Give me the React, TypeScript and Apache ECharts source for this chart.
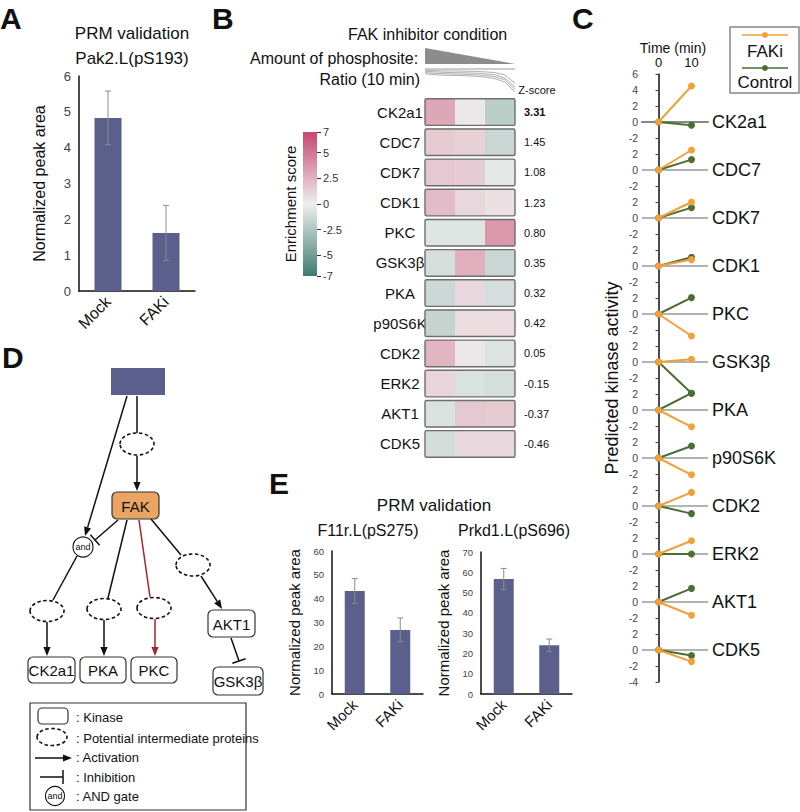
import React, { useEffect, useRef } from "react";
import * as echarts from "echarts";

const FONT = "'Liberation Sans', Arial, Helvetica, sans-serif";
const BAR = "#5b5f8b";
const ORANGE = "#f4a03a";
const GREEN = "#4b6e34";
const RED = "#a3262c";

// ---------- Panel A ----------
const A_CATS = ["Mock", "FAKi"];
const A_MEANS = [4.83, 1.62];
const A_ERRS = [0.75, 0.77];

// ---------- Panel B ----------
const B_KINASES = ["CK2a1", "CDC7", "CDK7", "CDK1", "PKC", "GSK3β", "PKA", "p90S6K", "CDK2", "ERK2", "AKT1", "CDK5"];
const B_COLUMNS = ["1", "2", "3"];
const B_COL1 = [3.0, 1.5, 1.6, 2.1, -0.6, -1.0, -1.4, -1.6, 2.4, 1.1, -0.8, -1.1];
const B_COL2 = [0.3, 1.2, 1.4, 1.0, -0.6, 2.6, 1.0, 0.8, 0.3, -0.8, 1.6, 1.0];
const B_COL3 = [-2.0, -1.5, -0.4, 0.6, 3.6, -1.5, -1.0, 0.8, -0.7, -1.0, 1.5, 1.0];
const B_Z = ["3.31", "1.45", "1.08", "1.23", "0.80", "0.35", "0.32", "0.42", "0.05", "-0.15", "-0.37", "-0.46"];
const B_SCALE_TICKS = [7, 5, 2.5, 0, -2.5, -5, -7];
const B_RATIO_LINES = [
  [0.95, 0.93, 0.92, 0.92, 0.91, 0.9, 0.88, 0.85, 0.75, 0.4],
  [0.9, 0.88, 0.86, 0.85, 0.84, 0.83, 0.8, 0.76, 0.62, 0.25],
  [0.85, 0.82, 0.8, 0.79, 0.78, 0.76, 0.73, 0.68, 0.55, 0.15],
  [0.8, 0.76, 0.74, 0.73, 0.72, 0.7, 0.66, 0.6, 0.45, 0.05],
];

// ---------- Panel C ----------
const C_KINASES = ["CK2a1", "CDC7", "CDK7", "CDK1", "PKC", "GSK3β", "PKA", "p90S6K", "CDK2", "ERK2", "AKT1", "CDK5"];
const C_TIMES = [0, 10];
const C_FAKI_10 = [4.5, 2.5, 2.0, 0.8, -2.75, 0.35, -2.1, -2.1, 1.7, 1.65, -1.65, -1.45];
const C_CTRL_10 = [-0.4, 1.3, 1.3, 1.1, 2.05, -3.9, 2.1, 1.5, -0.95, 0.0, 1.7, -0.7];
const C_STEP = 6;

// ---------- Panel E ----------
const E_CATS = ["Mock", "FAKi"];
const E1_MEANS = [43.2, 26.9];
const E1_ERRS = [5.2, 5.0];
const E2_MEANS = [56.7, 24.0];
const E2_ERRS = [5.2, 3.1];

function errorBars(xAxisIndex: number, yAxisIndex: number, means: number[], errs: number[]) {
  return {
    type: "custom",
    xAxisIndex,
    yAxisIndex,
    z: 5,
    silent: true,
    data: means.map((m, i) => [i, m - errs[i], m + errs[i]]),
    renderItem: (params: any, api: any) => {
      const i = api.value(0);
      const lo = api.coord([i, api.value(1)]);
      const hi = api.coord([i, api.value(2)]);
      const hw = 3;
      const st = { stroke: "#8c8c8c", lineWidth: 1 };
      return {
        type: "group",
        children: [
          { type: "line", shape: { x1: hi[0], y1: hi[1], x2: lo[0], y2: lo[1] }, style: st },
          { type: "line", shape: { x1: hi[0] - hw, y1: hi[1], x2: hi[0] + hw, y2: hi[1] }, style: st },
          { type: "line", shape: { x1: lo[0] - hw, y1: lo[1], x2: lo[0] + hw, y2: lo[1] }, style: st },
        ],
      };
    },
  };
}

function txt(x: number, y: number, text: string, size: number, extra: any = {}) {
  return {
    type: "text",
    x,
    y,
    silent: true,
    style: {
      text,
      fontSize: size,
      fontFamily: FONT,
      fill: "#111",
      align: "center",
      verticalAlign: "middle",
      ...extra,
    },
  };
}

function arrow(x1: number, y1: number, x2: number, y2: number, color = "#111") {
  const dx = x2 - x1, dy = y2 - y1;
  const L = Math.hypot(dx, dy);
  const ux = dx / L, uy = dy / L;
  const hl = 9, hw = 3.6;
  const bx = x2 - ux * hl, by = y2 - uy * hl;
  return [
    { type: "line", silent: true, shape: { x1, y1, x2: bx, y2: by }, style: { stroke: color, lineWidth: 1.5 } },
    {
      type: "polygon",
      silent: true,
      shape: { points: [[x2, y2], [bx - uy * hw, by + ux * hw], [bx + uy * hw, by - ux * hw]] },
      style: { fill: color },
    },
  ];
}

function inhibit(x1: number, y1: number, x2: number, y2: number, color = "#111") {
  const dx = x2 - x1, dy = y2 - y1;
  const L = Math.hypot(dx, dy);
  const ux = dx / L, uy = dy / L;
  const hw = 7;
  return [
    { type: "line", silent: true, shape: { x1, y1, x2, y2 }, style: { stroke: color, lineWidth: 1.5 } },
    {
      type: "line",
      silent: true,
      shape: { x1: x2 - uy * hw, y1: y2 + ux * hw, x2: x2 + uy * hw, y2: y2 - ux * hw },
      style: { stroke: color, lineWidth: 1.5 },
    },
  ];
}

function line(x1: number, y1: number, x2: number, y2: number, color = "#111") {
  return { type: "line", silent: true, shape: { x1, y1, x2, y2 }, style: { stroke: color, lineWidth: 1.5 } };
}

function dashEllipse(cx: number, cy: number, rx = 17, ry = 10.5) {
  return {
    type: "ellipse",
    silent: true,
    shape: { cx, cy, rx, ry },
    style: { fill: "#fff", stroke: "#111", lineWidth: 1.6, lineDash: [3.5, 2.5] },
  };
}

function kinaseBox(x: number, y: number, w: number, h: number, label: string, size = 15) {
  return [
    {
      type: "rect",
      silent: true,
      shape: { x, y, width: w, height: h, r: 5 },
      style: { fill: "#fff", stroke: "#333", lineWidth: 1.2 },
    },
    txt(x + w / 2, y + h / 2 + 0.5, label, size),
  ];
}

function andGate(cx: number, cy: number, r = 10) {
  return [
    { type: "circle", silent: true, shape: { cx, cy, r }, style: { fill: "#fff", stroke: "#111", lineWidth: 1.1 } },
    txt(cx, cy, "and", 9),
  ];
}

export default function App() {
  const ref = useRef<HTMLDivElement>(null);

  useEffect(() => {
    if (!ref.current) return;
    const chart = echarts.init(ref.current, undefined, { renderer: "svg" });

    const axisBlack = { show: true, lineStyle: { color: "#111", width: 1.5 } };
    const series: any[] = [];

    // Panel A
    series.push({
      type: "bar",
      xAxisIndex: 0,
      yAxisIndex: 0,
      data: A_MEANS,
      barWidth: 27,
      itemStyle: { color: BAR },
      silent: true,
    });
    series.push(errorBars(0, 0, A_MEANS, A_ERRS));

    // Panel B cells
    const cellData: any[] = [];
    B_KINASES.forEach((_, r) => {
      cellData.push([0, r, B_COL1[r]]);
      cellData.push([1, r, B_COL2[r]]);
      cellData.push([2, r, B_COL3[r]]);
    });
    const cellIndex = series.length;
    series.push({
      type: "custom",
      xAxisIndex: 1,
      yAxisIndex: 1,
      data: cellData,
      silent: true,
      renderItem: (params: any, api: any) => {
        const p = api.coord([api.value(0), api.value(1)]);
        const s = api.size([1, 1]);
        return {
          type: "rect",
          shape: { x: p[0] - s[0] / 2, y: p[1] - s[1] / 2 + 1.8, width: s[0], height: s[1] - 3.6 },
          style: { fill: api.visual("color") },
        };
      },
    });
    // row outlines
    series.push({
      type: "custom",
      xAxisIndex: 1,
      yAxisIndex: 1,
      data: B_KINASES.map((_, r) => [1, r]),
      silent: true,
      z: 4,
      renderItem: (params: any, api: any) => {
        const p = api.coord([api.value(0), api.value(1)]);
        const s = api.size([1, 1]);
        return {
          type: "rect",
          shape: { x: p[0] - s[0] * 1.5, y: p[1] - s[1] / 2 + 1.8, width: s[0] * 3, height: s[1] - 3.6, r: 1.5 },
          style: { fill: "none", stroke: "#6e6e6e", lineWidth: 1.4 },
        };
      },
    });
    // colour bar
    series.push({
      type: "custom",
      xAxisIndex: 2,
      yAxisIndex: 3,
      data: [[0, B_SCALE_TICKS[B_SCALE_TICKS.length - 1], B_SCALE_TICKS[0]]],
      silent: true,
      renderItem: (params: any, api: any) => {
        const lo = api.coord([0, api.value(1)]);
        const hi = api.coord([0, api.value(2)]);
        const s = api.size([1, 1]);
        return {
          type: "rect",
          shape: { x: lo[0] - s[0] / 2, y: hi[1], width: s[0], height: lo[1] - hi[1] },
          style: {
            fill: new echarts.graphic.LinearGradient(0, 0, 0, 1, [
              { offset: 0, color: "#c7466f" },
              { offset: 0.5, color: "#eeefee" },
              { offset: 1, color: "#3f7b70" },
            ]),
          },
        };
      },
    });
    // ratio mini lines
    B_RATIO_LINES.forEach((arr) => {
      series.push({
        type: "line",
        xAxisIndex: 6,
        yAxisIndex: 7,
        data: arr,
        symbol: "none",
        silent: true,
        lineStyle: { color: "#9a9a9a", width: 0.8 },
      });
    });

    // Panel C
    C_KINASES.forEach((name, k) => {
      const base = -C_STEP * k;
      const s: any = {
        type: "line",
        xAxisIndex: 3,
        yAxisIndex: 4,
        data: [
          [C_TIMES[0], base],
          [C_TIMES[1], base + C_CTRL_10[k]],
        ],
        symbol: "circle",
        symbolSize: 7,
        silent: true,
        z: 3,
        itemStyle: { color: GREEN },
        lineStyle: { color: GREEN, width: 2 },
      };
      if (k === 0) {
        s.markLine = {
          silent: true,
          symbol: ["none", "none"],
          lineStyle: { color: "#9a9a9a", width: 1.5, type: "solid" },
          label: { show: true, position: "end", formatter: "{b}", fontSize: 18, color: "#111", fontFamily: FONT, distance: 4 },
          data: C_KINASES.map((n, j) => ({ yAxis: -C_STEP * j, name: n })),
          z: 1,
        };
      }
      series.push(s);
    });
    C_KINASES.forEach((name, k) => {
      const base = -C_STEP * k;
      series.push({
        type: "line",
        xAxisIndex: 3,
        yAxisIndex: 4,
        data: [
          [C_TIMES[0], base],
          [C_TIMES[1], base + C_FAKI_10[k]],
        ],
        symbol: "circle",
        symbolSize: 7,
        silent: true,
        z: 4,
        itemStyle: { color: ORANGE },
        lineStyle: { color: ORANGE, width: 2 },
      });
    });

    // Panel E
    series.push({ type: "bar", xAxisIndex: 4, yAxisIndex: 5, data: E1_MEANS, barWidth: 20, itemStyle: { color: BAR }, silent: true });
    series.push(errorBars(4, 5, E1_MEANS, E1_ERRS));
    series.push({ type: "bar", xAxisIndex: 5, yAxisIndex: 6, data: E2_MEANS, barWidth: 20, itemStyle: { color: BAR }, silent: true });
    series.push(errorBars(5, 6, E2_MEANS, E2_ERRS));

    const catAxis = (gridIndex: number, data: string[], fontSize: number) => ({
      type: "category",
      gridIndex,
      data,
      axisLine: axisBlack,
      axisTick: { show: false },
      axisLabel: { rotate: 45, fontSize, color: "#111", fontFamily: FONT, margin: 8 },
    });

    const valAxis = (gridIndex: number, max: number, interval: number, fontSize: number, name: string, nameSize: number, nameGap: number) => ({
      type: "value",
      gridIndex,
      min: 0,
      max,
      interval,
      axisLine: axisBlack,
      axisTick: { show: false },
      splitLine: { show: false },
      axisLabel: { fontSize, color: "#444", fontFamily: FONT, margin: 8 },
      name,
      nameLocation: "middle",
      nameGap,
      nameTextStyle: { fontSize: nameSize, color: "#111", fontFamily: FONT },
    });

    // Panel D graphics
    const dGraphics: any[] = [
      { type: "rect", silent: true, shape: { x: 111, y: 368, width: 54, height: 27 }, style: { fill: BAR } },
      ...arrow(127, 396, 85, 536),
      line(137, 396, 137, 433),
      dashEllipse(137, 444, 17, 11),
      ...arrow(137, 456, 137, 491),
      {
        type: "rect",
        silent: true,
        shape: { x: 112, y: 492, width: 47, height: 27, r: 5 },
        style: { fill: "#eba563", stroke: "#333", lineWidth: 1.2 },
      },
      txt(135.5, 506, "FAK", 15),
      ...inhibit(118, 520, 95, 540),
      ...andGate(83, 547),
      line(77, 556, 53, 600),
      line(127, 520, 108, 598),
      line(139, 520, 150, 597, RED),
      line(151, 519, 181, 555),
      dashEllipse(47, 611),
      dashEllipse(104, 609),
      dashEllipse(154, 608),
      dashEllipse(193, 565, 17, 11),
      ...arrow(47, 622, 47, 656),
      ...arrow(104, 620, 104, 656),
      ...arrow(155, 619, 155, 656, RED),
      ...arrow(201, 576, 222, 609),
      ...kinaseBox(28, 657, 47, 26, "CK2a1"),
      ...kinaseBox(80, 657, 46, 26, "PKA"),
      ...kinaseBox(131, 657, 46, 26, "PKC"),
      ...kinaseBox(208, 610, 47, 27, "AKT1"),
      ...inhibit(231, 638, 239, 661),
      ...kinaseBox(213, 667, 50, 28, "GSK3β"),
      // legend
      { type: "rect", silent: true, shape: { x: 30, y: 703, width: 216, height: 107 }, style: { fill: "none", stroke: "#333", lineWidth: 1.2 } },
      { type: "rect", silent: true, shape: { x: 38, y: 708, width: 30, height: 16, r: 4 }, style: { fill: "#fff", stroke: "#333", lineWidth: 1.2 } },
      txt(76, 717, ": Kinase", 13, { align: "left" }),
      dashEllipse(52, 737, 15, 8.5),
      txt(76, 738, ": Potential intermediate proteins", 13, { align: "left" }),
      ...arrow(35, 758, 72, 758),
      txt(76, 757, ": Activation", 13, { align: "left" }),
      ...inhibit(40, 777, 63, 777),
      txt(76, 777, ": Inhibition", 13, { align: "left" }),
      ...andGate(55, 796, 9.5),
      txt(76, 796, ": AND gate", 13, { align: "left" }),
    ];

    const option: any = {
      animation: false,
      textStyle: { fontFamily: FONT },
      grid: [
        { left: 79, top: 76, width: 116, height: 215 },
        { left: 425, top: 97, width: 90, height: 362 },
        { left: 303, top: 132, width: 14, height: 144 },
        { left: 642, top: 74, width: 66, height: 608 },
        { left: 332, top: 551, width: 91, height: 143 },
        { left: 481, top: 552, width: 91, height: 142 },
        { left: 425, top: 69, width: 90, height: 24 },
      ],
      xAxis: [
        catAxis(0, A_CATS, 16),
        { type: "category", gridIndex: 1, data: B_COLUMNS, show: false },
        { type: "category", gridIndex: 2, data: ["bar"], show: false },
        {
          type: "value",
          gridIndex: 3,
          position: "top",
          min: -5,
          max: 15,
          interval: 5,
          axisLine: axisBlack,
          axisTick: { show: false },
          splitLine: { show: false },
          axisLabel: {
            fontSize: 13,
            color: "#111",
            margin: 5,
            formatter: (v: number) => (C_TIMES.indexOf(v) >= 0 ? String(v) : ""),
          },
        },
        catAxis(4, E_CATS, 15),
        catAxis(5, E_CATS, 15),
        { type: "category", gridIndex: 6, data: B_RATIO_LINES[0].map((_, i) => String(i)), show: false, boundaryGap: false },
      ],
      yAxis: [
        valAxis(0, 6, 1, 13, "Normalized peak area", 16, 32),
        {
          type: "category",
          gridIndex: 1,
          data: B_KINASES,
          inverse: true,
          axisLine: { show: false },
          axisTick: { show: false },
          axisLabel: { fontSize: 15, color: "#111", align: "center", margin: 25 },
        },
        {
          type: "category",
          gridIndex: 1,
          data: B_KINASES,
          inverse: true,
          position: "right",
          axisLine: { show: false },
          axisTick: { show: false },
          axisLabel: {
            fontSize: 11,
            color: "#111",
            align: "left",
            margin: 9,
            formatter: (v: string, i: number) => (i === 0 ? `{b|${B_Z[i]}}` : B_Z[i]),
            rich: { b: { fontWeight: "bold", fontSize: 11, color: "#111" } },
          },
        },
        {
          type: "value",
          gridIndex: 2,
          position: "right",
          min: -7,
          max: 7,
          axisLine: { show: false },
          splitLine: { show: false },
          axisTick: { show: true, length: 4, lineStyle: { color: "#333" }, customValues: B_SCALE_TICKS },
          axisLabel: { fontSize: 11, color: "#333", margin: 6, customValues: B_SCALE_TICKS },
        },
        {
          type: "value",
          gridIndex: 3,
          min: -70,
          max: 6,
          interval: 2,
          axisLine: axisBlack,
          axisTick: { show: true, length: 3, lineStyle: { color: "#444" } },
          splitLine: { show: false },
          axisLabel: {
            fontSize: 10.5,
            color: "#444",
            margin: 4,
            formatter: (v: number) => {
              let k = Math.round(-v / C_STEP);
              k = Math.min(Math.max(k, 0), C_KINASES.length - 1);
              return String(v + C_STEP * k);
            },
          },
        },
        valAxis(4, 60, 10, 9.5, "Normalized peak area", 15, 30),
        valAxis(5, 70, 10, 9.5, "Normalized peak area", 15, 30),
        { type: "value", gridIndex: 6, min: 0, max: 1, show: false },
      ],
      visualMap: [
        {
          type: "continuous",
          show: false,
          min: -7,
          max: 7,
          dimension: 2,
          seriesIndex: cellIndex,
          inRange: { color: ["#3f7b70", "#eeefee", "#c7466f"] },
        },
      ],
      series,
      graphic: [
        // panel letters
        txt(0, 3, "A", 30, { align: "left", verticalAlign: "top", fontWeight: "bold" }),
        txt(212, 3, "B", 30, { align: "left", verticalAlign: "top", fontWeight: "bold" }),
        txt(572, 3, "C", 30, { align: "left", verticalAlign: "top", fontWeight: "bold" }),
        txt(2, 342, "D", 30, { align: "left", verticalAlign: "top", fontWeight: "bold" }),
        txt(269, 468, "E", 30, { align: "left", verticalAlign: "top", fontWeight: "bold" }),
        // panel A titles
        txt(132, 33, "PRM validation", 17),
        txt(132, 58, "Pak2.L(pS193)", 17),
        // panel B header
        txt(348, 34, "FAK inhibitor condition", 16, { align: "left" }),
        txt(250, 58, "Amount of phosphosite:", 16, { align: "left" }),
        {
          type: "polygon",
          silent: true,
          shape: { points: [[425, 48], [515, 64], [425, 64]] },
          style: { fill: "#8c8c8c" },
        },
        txt(420, 79, "Ratio (10 min)", 16, { align: "right" }),
        line(425, 69, 515, 69, "#bbbbbb"),
        txt(537, 90, "Z-score", 11),
        txt(290, 204, "Enrichment score", 15, {}),
        // panel C
        txt(673, 48, "Time (min)", 14),
        {
          type: "text",
          x: 612,
          y: 378,
          rotation: Math.PI / 2,
          silent: true,
          style: { text: "Predicted kinase activity", fontSize: 18, fontFamily: FONT, fill: "#111", align: "center", verticalAlign: "middle" },
        },
        { type: "rect", silent: true, shape: { x: 730, y: 27, width: 69, height: 66 }, style: { fill: "#fff", stroke: "#888", lineWidth: 1.5 } },
        line(742, 35, 788, 35, ORANGE),
        { type: "circle", silent: true, shape: { cx: 765, cy: 35, r: 3 }, style: { fill: ORANGE } },
        txt(765, 51, "FAKi", 17),
        line(742, 68, 788, 68, GREEN),
        { type: "circle", silent: true, shape: { cx: 765, cy: 68, r: 3 }, style: { fill: GREEN } },
        txt(765, 82, "Control", 17),
        // panel E titles
        txt(434, 505, "PRM validation", 17),
        txt(368, 530, "F11r.L(pS275)", 16),
        txt(514, 530, "Prkd1.L(pS696)", 16),
        ...dGraphics,
      ],
    };
    // rotate "Enrichment score"
    const enr = option.graphic.find((g: any) => g.style && g.style.text === "Enrichment score");
    if (enr) enr.rotation = Math.PI / 2;

    chart.setOption(option);
    return () => chart.dispose();
  }, []);

  return <div ref={ref} style={{ position: "absolute", left: 0, top: 0, width: 800, height: 812, background: "#fff" }} />;
}
